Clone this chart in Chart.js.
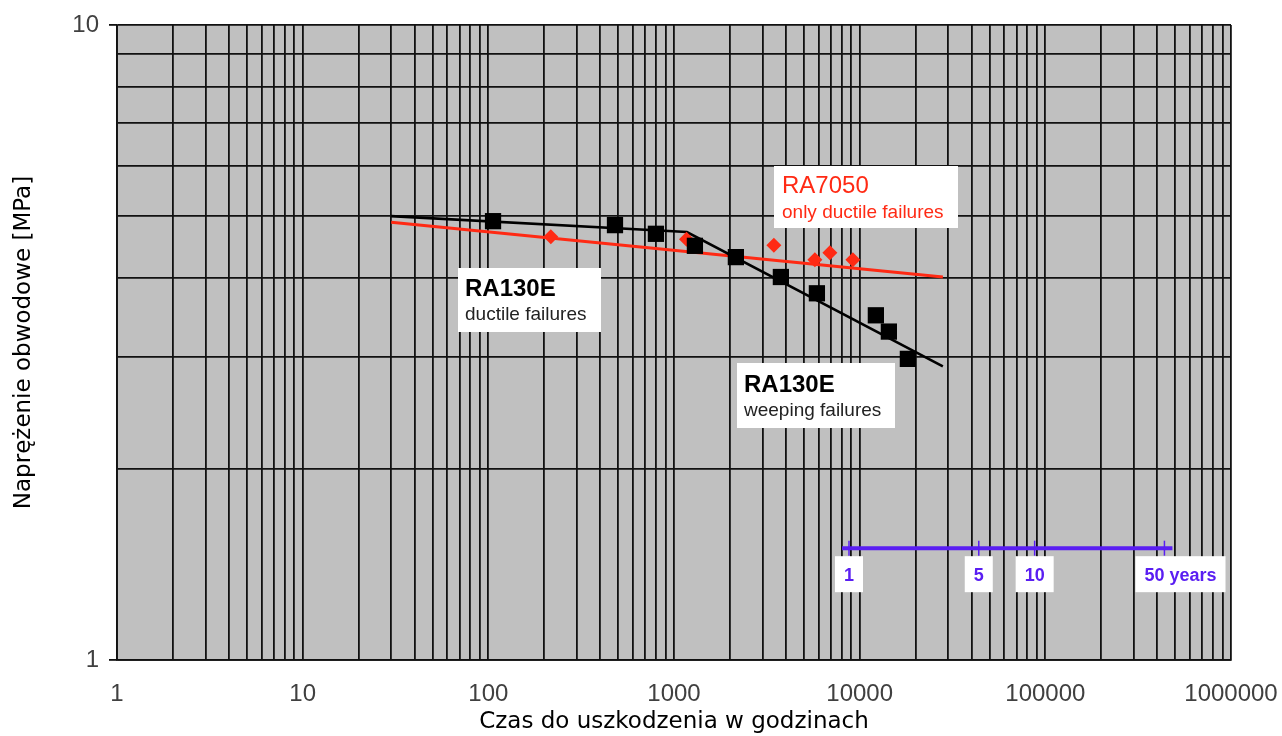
<!DOCTYPE html>
<html>
<head>
<meta charset="utf-8">
<script src="https://cdn.jsdelivr.net/npm/chart.js@4.4.0/dist/chart.umd.min.js"></script>
<style>
  html, body { margin: 0; padding: 0; background: #fff; }
</style>
</head>
<body>
<canvas id="chart" width="1282" height="736"></canvas>
<script>
// RA130E squares (hours, MPa)
const ra130eHours = [106, 481, 799, 1296, 2154, 3764, 5884, 12224, 14365, 18182];
const ra130eStress = [4.91, 4.84, 4.69, 4.49, 4.31, 4.01, 3.78, 3.49, 3.29, 2.98];

// RA7050 diamonds
const ra7050Hours = [217, 1168, 3451, 5740, 6910, 9193];
const ra7050Stress = [4.64, 4.60, 4.50, 4.27, 4.38, 4.27];

// fitted lines
const ra130eFitHours = [30, 1173, 28060];
const ra130eFitStress = [5.00, 4.72, 2.90];
const ra7050FitHours = [30, 28060];
const ra7050FitStress = [4.89, 4.01];

// years scale bar
const HOURS_PER_YEAR = 8760;
const barYears = [1, 5, 10, 50];
const barLabels = ['1', '5', '10', '50 years'];
const barStress = 1.5;

const xMinExp = 0, xMaxExp = 6;
const yMinExp = 0, yMaxExp = 1;

const BLUE = '#5a1ef2';
const RED = '#ff2a14';
const GRID = '#111';

function toPoints(xs, ys) {
    return xs.map((x, i) => ({ x: x, y: ys[i] }));
}

function logTicks(minExp, maxExp) {
    const ticks = [];
    for (let e = minExp; e < maxExp; e++) {
        for (let m = 1; m < 10; m++) {
            ticks.push({ value: m * Math.pow(10, e), major: m === 1 });
        }
    }
    ticks.push({ value: Math.pow(10, maxExp), major: true });
    return ticks;
}

const plotBackground = {
    id: 'plotBackground',
    beforeDraw(chart) {
        const { ctx, chartArea: a } = chart;
        ctx.save();
        ctx.fillStyle = '#c0c0c0';
        ctx.fillRect(a.left, a.top, a.right - a.left, a.bottom - a.top);
        ctx.restore();
    }
};

// text boxes on the plot
const notes = [
    { box: [774, 166, 184, 62], lines: [
        { text: 'RA7050', font: '24px "Liberation Sans"', color: RED, x: 782, y: 193 },
        { text: 'only ductile failures', font: '19px "Liberation Sans"', color: RED, x: 782, y: 218 }
    ] },
    { box: [458, 268, 143, 64], lines: [
        { text: 'RA130E', font: 'bold 24px "Liberation Sans"', color: '#000', x: 465, y: 296 },
        { text: 'ductile failures', font: '19px "Liberation Sans"', color: '#222', x: 465, y: 320 }
    ] },
    { box: [737, 363, 158, 65], lines: [
        { text: 'RA130E', font: 'bold 24px "Liberation Sans"', color: '#000', x: 744, y: 392 },
        { text: 'weeping failures', font: '19px "Liberation Sans"', color: '#222', x: 744, y: 416 }
    ] }
];

const annotations = {
    id: 'annotations',
    afterDraw(chart) {
        const ctx = chart.ctx;
        const xs = chart.scales.x, ys = chart.scales.y;
        ctx.save();
        notes.forEach(n => {
            ctx.fillStyle = '#fff';
            ctx.fillRect(n.box[0], n.box[1], n.box[2], n.box[3]);
            n.lines.forEach(l => {
                ctx.font = l.font;
                ctx.fillStyle = l.color;
                ctx.textBaseline = 'alphabetic';
                ctx.textAlign = 'left';
                ctx.fillText(l.text, l.x, l.y);
            });
        });

        // year bar: end stubs and labels
        const by = ys.getPixelForValue(barStress);
        const x0 = xs.getPixelForValue(barYears[0] * HOURS_PER_YEAR);
        const x1 = xs.getPixelForValue(barYears[barYears.length - 1] * HOURS_PER_YEAR);
        ctx.strokeStyle = BLUE;
        ctx.lineWidth = 4;
        ctx.beginPath();
        ctx.moveTo(x0 - 7, by);
        ctx.lineTo(x0, by);
        ctx.moveTo(x1, by);
        ctx.lineTo(x1 + 8, by);
        ctx.stroke();

        ctx.font = 'bold 18px "Liberation Sans"';
        ctx.textBaseline = 'alphabetic';
        barYears.forEach((yr, i) => {
            const px = xs.getPixelForValue(yr * HOURS_PER_YEAR);
            const w = ctx.measureText(barLabels[i]).width;
            const last = i === barYears.length - 1;
            const tx = last ? px - 20 : px - w / 2;
            ctx.fillStyle = '#fff';
            ctx.fillRect(tx - 9, by + 8, w + 18, 36);
            ctx.fillStyle = BLUE;
            ctx.textAlign = 'left';
            ctx.fillText(barLabels[i], tx, by + 33);
        });
        ctx.restore();
    }
};

new Chart(document.getElementById('chart'), {
    type: 'scatter',
    data: {
        datasets: [
            {
                label: 'RA130E',
                data: toPoints(ra130eHours, ra130eStress),
                pointStyle: 'rect',
                pointRadius: 11.5,
                backgroundColor: '#000',
                borderWidth: 0
            },
            {
                label: 'RA7050',
                data: toPoints(ra7050Hours, ra7050Stress),
                pointStyle: 'rectRot',
                pointRadius: 7.5,
                backgroundColor: RED,
                borderWidth: 0
            },
            {
                label: 'RA130E fit',
                data: toPoints(ra130eFitHours, ra130eFitStress),
                showLine: true,
                pointRadius: 0,
                borderColor: '#000',
                borderWidth: 2.6
            },
            {
                label: 'RA7050 fit',
                data: toPoints(ra7050FitHours, ra7050FitStress),
                showLine: true,
                pointRadius: 0,
                borderColor: RED,
                borderWidth: 3
            },
            {
                label: 'years',
                data: toPoints(barYears.map(y => y * HOURS_PER_YEAR), barYears.map(() => barStress)),
                showLine: true,
                borderColor: BLUE,
                borderWidth: 4,
                pointStyle: 'line',
                pointRotation: 90,
                pointRadius: 7.5,
                pointBorderColor: BLUE,
                pointBorderWidth: 1.5
            }
        ]
    },
    options: {
        responsive: false,
        animation: false,
        events: [],
        layout: { padding: { top: 25, right: 51, left: 0, bottom: 0 } },
        plugins: {
            legend: { display: false },
            tooltip: { enabled: false }
        },
        scales: {
            x: {
                type: 'logarithmic',
                min: Math.pow(10, xMinExp),
                max: Math.pow(10, xMaxExp),
                afterBuildTicks: s => { s.ticks = logTicks(xMinExp, xMaxExp); },
                afterFit: s => { s.height = 76; s.paddingLeft = 0; s.paddingRight = 0; },
                grid: { color: GRID, lineWidth: 1.8, drawTicks: false },
                border: { color: GRID, width: 1.8 },
                ticks: {
                    autoSkip: false,
                    maxRotation: 0,
                    padding: 20,
                    color: '#404040',
                    font: { family: '"Liberation Sans"', size: 24 },
                    callback: (v, i, t) => t[i].major ? String(v) : ''
                },
                title: {
                    display: true,
                    text: 'Czas do uszkodzenia w godzinach',
                    color: '#000',
                    font: { family: '"DejaVu Sans"', size: 23 },
                    padding: { top: 0, bottom: 0 }
                }
            },
            y: {
                type: 'logarithmic',
                min: Math.pow(10, yMinExp),
                max: Math.pow(10, yMaxExp),
                afterBuildTicks: s => { s.ticks = logTicks(yMinExp, yMaxExp); },
                afterFit: s => { s.width = 117; s.paddingTop = 0; s.paddingBottom = 0; },
                grid: {
                    color: GRID,
                    lineWidth: 1.8,
                    tickLength: 8,
                    tickColor: c => (c.tick && c.tick.major) ? GRID : 'rgba(0,0,0,0)'
                },
                border: { color: GRID, width: 1.8 },
                ticks: {
                    autoSkip: false,
                    padding: 10,
                    color: '#404040',
                    font: { family: '"Liberation Sans"', size: 24 },
                    callback: (v, i, t) => t[i].major ? String(v) : ''
                },
                title: {
                    display: true,
                    text: 'Naprężenie obwodowe [MPa]',
                    color: '#000',
                    font: { family: '"DejaVu Sans"', size: 23 },
                    padding: { top: 10, bottom: 0 }
                }
            }
        }
    },
    plugins: [plotBackground, annotations]
});
</script>
</body>
</html>
